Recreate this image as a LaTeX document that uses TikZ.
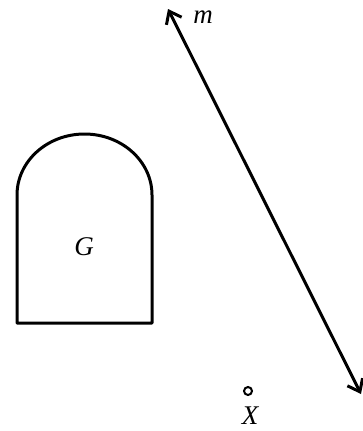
\documentclass[tikz,border=0pt]{standalone}
\usepackage{fontspec}
\setmainfont{Liberation Serif}
\usetikzlibrary{arrows.meta}

\begin{document}
\begin{tikzpicture}[
    x=1pt, y=-1pt,
    thick line/.style={line width=3pt},
    label/.style={font=\fontsize{27}{30}\selectfont\itshape, inner sep=0pt},
    arrow/.style={{Straight Barb[length=11pt, width=17pt]}-{Straight Barb[length=11pt, width=17pt]}, line width=3pt},
    dot/.style={circle, draw, line width=2pt, minimum size=8pt, inner sep=0pt},
]
\useasboundingbox (0,0) rectangle (362,431);

% the region G
\draw[thick line, line join=round] (17,323) -- (17,195)
    arc[start angle=180, end angle=0, x radius=67.5pt, y radius=61pt]
    -- (152,323) -- cycle;
\node[label] (glabel) at (84,247) {G};

% the line m
\coordinate (mtop) at (168,9);
\coordinate (mbot) at (361,394);
\draw[arrow] (mtop) -- (mbot);
\node[label] (mlabel) at (203,17) {m};

% the point X
\node[dot] (xpt) at (248,391) {};
\node[label] (xlabel) at (250,416) {X};

\end{tikzpicture}
\end{document}
